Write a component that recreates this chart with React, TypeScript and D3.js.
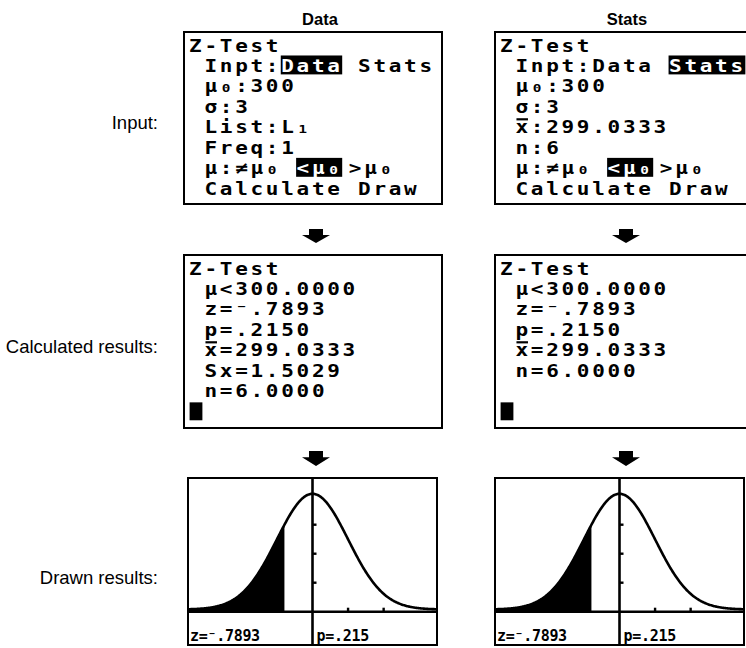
import React from "react";
import * as d3 from "d3";

// ---------- data ----------
const columnHeaders = ["Data", "Stats"];
const rowLabels = ["Input:", "Calculated results:", "Drawn results:"];

const mu0 = "300";
const sigma = "3";
const listName = "L₁";
const freq = "1";
const xBarIn = "299.0333";
const nIn = "6";

const muTest = "300.0000";
const zStat = "⁻.7893";
const pStat = ".2150";
const xBarOut = "299.0333";
const sxOut = "1.5029";
const nOut = "6.0000";

const zScore = -0.7893;
const zLabel = "z=⁻.7893";
const pLabel = "p=.215";
const xWindow = [-3.5, 3.5];
const yTicks = [0.1, 0.2, 0.3];
const xTicks = [1, 2];

type Seg = { col: number; text: string; inv?: boolean; bar?: boolean };
type Line = Seg[];

const altLine: Line = [{ col: 1, text: "μ:≠μ₀" }, { col: 7, text: "<μ₀", inv: true }, { col: 10.4, text: ">μ₀" }];

const inputScreens: Line[][] = [
  [
    [{ col: 0, text: "Z-Test" }],
    [{ col: 1, text: "Inpt:" }, { col: 6, text: "Data", inv: true }, { col: 11, text: "Stats" }],
    [{ col: 1, text: "μ₀:" + mu0 }],
    [{ col: 1, text: "σ:" + sigma }],
    [{ col: 1, text: "List:" + listName }],
    [{ col: 1, text: "Freq:" + freq }],
    altLine,
    [{ col: 1, text: "Calculate" }, { col: 11, text: "Draw" }],
  ],
  [
    [{ col: 0, text: "Z-Test" }],
    [{ col: 1, text: "Inpt:Data" }, { col: 11, text: "Stats", inv: true }],
    [{ col: 1, text: "μ₀:" + mu0 }],
    [{ col: 1, text: "σ:" + sigma }],
    [{ col: 1, text: "x:" + xBarIn, bar: true }],
    [{ col: 1, text: "n:" + nIn }],
    altLine,
    [{ col: 1, text: "Calculate" }, { col: 11, text: "Draw" }],
  ],
];

const resultScreens: Line[][] = [
  [
    [{ col: 0, text: "Z-Test" }],
    [{ col: 1, text: "μ<" + muTest }],
    [{ col: 1, text: "z=" + zStat }],
    [{ col: 1, text: "p=" + pStat }],
    [{ col: 1, text: "x=" + xBarOut, bar: true }],
    [{ col: 1, text: "Sx=" + sxOut }],
    [{ col: 1, text: "n=" + nOut }],
  ],
  [
    [{ col: 0, text: "Z-Test" }],
    [{ col: 1, text: "μ<" + muTest }],
    [{ col: 1, text: "z=" + zStat }],
    [{ col: 1, text: "p=" + pStat }],
    [{ col: 1, text: "x=" + xBarOut, bar: true }],
    [{ col: 1, text: "n=" + nOut }],
  ],
];

// ---------- layout ----------
const W = 746;
const H = 648;
const colX = [184, 495];
const graphX = [188, 495];
const row1 = { y: 32, w: 258, h: 172 };
const row2 = { y: 255, w: 258, h: 173 };
const row3 = { y: 478, w: 249, h: 167 };
const PX = 2.56;
const MONO = "'DejaVu Sans Mono', monospace";
const FS = 17.5;
const ADV = FS * 0.602;
const PITCH = 6 * PX;
const SX = 1.2;

function Screen({ x, y, w, h, lines, cursor }: { x: number; y: number; w: number; h: number; lines: Line[]; cursor: boolean }) {
  const col = d3.scaleLinear().domain([0, 16]).range([x + 5.6, x + 5.6 + 16 * PITCH]);
  const row = d3.scaleLinear().domain([0, 8]).range([y + 4, y + 4 + 64 * PX]);
  return (
    <g>
      <rect x={x} y={y} width={w} height={h} fill="#fff" stroke="#000" strokeWidth={2} />
      {lines.map((line, li) =>
        line.map((s, si) => {
          const tx = col(s.col);
          const top = row(li);
          const n = Array.from(s.text).length;
          return (
            <g key={li + "-" + si}>
              {s.inv && <rect x={tx - 1} y={top - 1} width={n * PITCH} height={7 * PX + 1} fill="#000" />}
              <text
                transform={`translate(${tx - 0.5},${top + 15.5}) scale(${SX},1)`}
                fontFamily={MONO}
                fontSize={FS}
                fontWeight="bold"
                letterSpacing={PITCH / SX - ADV}
                fill={s.inv ? "#fff" : "#000"}
              >
                {s.text}
              </text>
              {s.bar && <rect x={tx + 0.5} y={top + 0.3} width={4.5 * PX} height={PX * 0.85} fill="#000" />}
            </g>
          );
        })
      )}
      {cursor && <rect x={col(0)} y={row(7)} width={5 * PX} height={7 * PX} fill="#000" />}
    </g>
  );
}

function Arrow({ cx, y0, y1 }: { cx: number; y0: number; y1: number }) {
  const mid = y0 + (y1 - y0) * 0.42;
  const d = `M${cx - 7},${y0}H${cx + 7}V${mid}H${cx + 14}L${cx},${y1}L${cx - 14},${mid}H${cx - 7}Z`;
  return <path d={d} fill="#000" />;
}

const pdf = (z: number) => Math.exp(-0.5 * z * z) / Math.sqrt(2 * Math.PI);

function Graph({ x }: { x: number }) {
  const { y, w, h } = row3;
  const axisY = y + 133.7;
  const xs = d3.scaleLinear().domain(xWindow).range([x, x + w]);
  const ys = d3.scaleLinear().domain([0, 0.4]).range([axisY, axisY - 116]);
  const zs = d3.range(xWindow[0], xWindow[1] + 0.001, 0.02);
  const lift = 2.2;
  const line = d3
    .line<number>()
    .x((z) => xs(z))
    .y((z) => ys(pdf(z)) - lift);
  const shadeZ = zs.filter((z) => z <= zScore).concat([zScore]);
  const area = d3
    .area<number>()
    .x((z) => xs(z))
    .y0(axisY)
    .y1((z) => ys(pdf(z)) - lift);
  return (
    <g>
      <defs>
        <clipPath id={"clip" + x}>
          <rect x={x} y={y} width={w} height={h} />
        </clipPath>
      </defs>
      <rect x={x} y={y} width={w} height={h} fill="#fff" />
      <g clipPath={`url(#clip${x})`}>
        <path d={area(shadeZ) || ""} fill="#000" />
        <line x1={x} x2={x + w} y1={axisY} y2={axisY} stroke="#000" strokeWidth={2.6} />
        <path d={line(zs) || ""} fill="none" stroke="#000" strokeWidth={2.6} />
        <line x1={xs(0)} x2={xs(0)} y1={y} y2={y + h} stroke="#000" strokeWidth={2.6} />
        {yTicks.map((t) => (
          <line key={"y" + t} x1={xs(0)} x2={xs(0) + 4} y1={ys(t)} y2={ys(t)} stroke="#000" strokeWidth={2.4} />
        ))}
        {xTicks.map((t) => (
          <line key={"x" + t} x1={xs(t)} x2={xs(t)} y1={axisY} y2={axisY - 4} stroke="#000" strokeWidth={2.4} />
        ))}
        <text x={x + 2} y={y + h - 4} fontFamily={MONO} fontSize={15} fontWeight="bold" letterSpacing={-0.3}>
          {zLabel}
        </text>
        <text x={xs(0) + 4} y={y + h - 4} fontFamily={MONO} fontSize={15} fontWeight="bold" letterSpacing={-0.3}>
          {pLabel}
        </text>
      </g>
      <rect x={x} y={y} width={w} height={h} fill="none" stroke="#000" strokeWidth={2} />
    </g>
  );
}

export default function App() {
  const headerX = [320, 627];
  const arrowX = [316, 626];
  const labelY = [123, 347, 578];
  return (
    <div style={{ position: "absolute", left: 0, top: 0 }}>
      <svg width={W} height={H} style={{ display: "block", background: "#fff" }}>
        {columnHeaders.map((t, i) => (
          <text key={t} x={headerX[i]} y={25} textAnchor="middle" fontFamily="'Liberation Sans', Arial, sans-serif" fontWeight="bold" fontSize={16.5}>
            {t}
          </text>
        ))}
        {rowLabels.map((t, i) => (
          <text key={t} x={158} y={labelY[i] + 6} textAnchor="end" fontFamily="'Liberation Sans', Arial, sans-serif" fontSize={18.5}>
            {t}
          </text>
        ))}
        {inputScreens.map((lines, i) => (
          <Screen key={"in" + i} x={colX[i]} y={row1.y} w={row1.w} h={row1.h} lines={lines} cursor={false} />
        ))}
        {resultScreens.map((lines, i) => (
          <Screen key={"res" + i} x={colX[i]} y={row2.y} w={row2.w} h={row2.h} lines={lines} cursor={true} />
        ))}
        {graphX.map((gx, i) => (
          <Graph key={"g" + i} x={gx} />
        ))}
        {arrowX.map((ax) => (
          <g key={"a" + ax}>
            <Arrow cx={ax} y0={229} y1={243} />
            <Arrow cx={ax} y0={451} y1={466} />
          </g>
        ))}
      </svg>
    </div>
  );
}
